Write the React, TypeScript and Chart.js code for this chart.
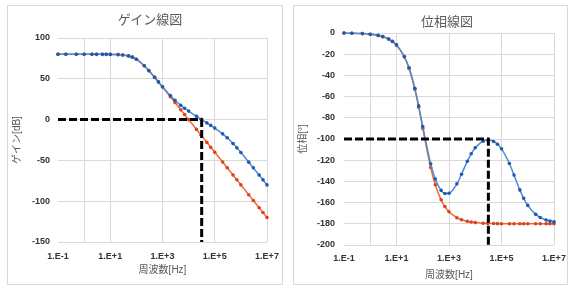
import React, { useEffect, useRef } from 'react';
import { Chart, registerables } from 'chart.js';
Chart.register(...registerables);

// ---- data ----
const freqHz = [0.1, 0.2, 0.5, 1, 2, 3, 5, 7, 10, 20, 30, 50, 70, 100, 200, 300, 500, 700, 1000, 2000, 3000, 5000, 7000, 1e4, 2e4, 3e4, 5e4, 7e4, 1e5, 2e5, 3e5, 5e5, 7e5, 1e6, 2e6, 3e6, 5e6, 7e6, 1e7];
const gainCompensated = [80, 80, 80, 80, 80, 79.99, 79.98, 79.96, 79.91, 79.66, 79.25, 78.06, 76.54, 73.98, 66.04, 60.04, 51.81, 46.23, 40.32, 29.4, 23.7, 17.48, 13.9, 10.41, 4.07, 0.47, -4.07, -7.1, -10.41, -17.48, -22.33, -29.42, -34.61, -40.41, -52.15, -59.13, -67.98, -73.81, -80.0];
const gainUncompensated = [80, 80, 80, 80, 80, 79.99, 79.98, 79.96, 79.91, 79.66, 79.25, 78.06, 76.54, 73.98, 66.02, 60.0, 51.7, 46.02, 39.91, 27.94, 20.91, 12.04, 6.19, 0.0, -12.04, -19.08, -27.96, -33.8, -40.0, -52.04, -59.08, -67.96, -73.8, -80.0, -92.04, -99.08, -107.96, -113.8, -120.0];
const phaseCompensated = [-0.11, -0.23, -0.56, -1.13, -2.26, -3.38, -5.63, -7.88, -11.24, -22.26, -32.86, -52.22, -68.71, -88.21, -123.29, -137.77, -148.49, -151.39, -151.21, -142.33, -133.23, -120.93, -113.94, -108.21, -102.03, -101.06, -102.37, -104.91, -109.25, -123.16, -134.05, -148.03, -155.93, -162.62, -171.1, -174.04, -176.42, -177.44, -178.21];
const phaseUncompensated = [-0.11, -0.23, -0.57, -1.15, -2.29, -3.44, -5.72, -8.01, -11.42, -22.62, -33.4, -53.13, -69.98, -90.0, -126.87, -143.13, -157.38, -163.74, -168.58, -174.28, -176.18, -177.71, -178.36, -178.85, -179.43, -179.62, -179.77, -179.84, -179.89, -179.94, -179.96, -179.98, -179.98, -179.99, -179.99, -180, -180, -180, -180];

const crossoverHz = 31600;
const gainCrossLevel = 0;
const phaseAtCrossover = -100;

const xTickValues = [0.1, 1, 10, 1000, 1e5, 1e7];
const xTickLabels = ['1.E-1', '', '1.E+1', '1.E+3', '1.E+5', '1.E+7'];

const gainMin = -150, gainMax = 100, gainStep = 50;
const phaseMin = -200, phaseMax = 0, phaseStep = 20;

const FONT = "'Liberation Sans', 'Noto Sans CJK JP', sans-serif";
const BLUE = '#4A8AD6';
const BLUE_PT = '#1F5BAA';
const RED = '#F06A38';
const RED_PT = '#D9441C';
const GRID = '#d9d9d9';

type Cfg = {
  blue: number[];
  red: number[];
  guideY: number;
  yMin: number;
  yMax: number;
  yStep: number;
  yTitle: string;
  padTop: number;
  padRight: number;
  yTickPad: number;
  xHeight: number;
  xTickPad: number;
  xTitlePad: number;
};

function makeConfig(c: Cfg): any {
  const series = (vals: number[]) => freqHz.map((f, i) => ({ x: f, y: vals[i] }));
  return {
    type: 'line',
    data: {
      datasets: [
        {
          data: [
            { x: freqHz[0], y: c.guideY },
            { x: crossoverHz, y: c.guideY },
            { x: crossoverHz, y: c.yMin },
          ],
          borderColor: '#000',
          borderWidth: 3,
          borderDash: [8, 3],
          pointRadius: 0,
          fill: false,
          tension: 0,
          clip: false,
        },
        {
          data: series(c.blue),
          borderColor: BLUE,
          borderWidth: 1.5,
          pointRadius: 1.8,
          pointBorderWidth: 0,
          pointBackgroundColor: BLUE_PT,
          fill: false,
          cubicInterpolationMode: 'monotone',
          clip: false,
        },
        {
          data: series(c.red),
          borderColor: RED,
          borderWidth: 1.5,
          pointRadius: 1.8,
          pointBorderWidth: 0,
          pointBackgroundColor: RED_PT,
          fill: false,
          cubicInterpolationMode: 'monotone',
          clip: false,
        },
      ],
    },
    options: {
      animation: false,
      responsive: false,
      maintainAspectRatio: false,
      layout: { padding: { top: c.padTop, right: c.padRight, bottom: 0, left: 0 } },
      plugins: { legend: { display: false }, tooltip: { enabled: false }, title: { display: false } },
      scales: {
        x: {
          type: 'logarithmic',
          min: 0.1,
          max: 1e7,
          border: { display: false },
          grid: {
            drawTicks: false,
            color: (ctx: any) => (ctx.tick && ctx.tick.value === 0.1 ? 'rgba(0,0,0,0)' : GRID),
            lineWidth: 1,
          },
          afterBuildTicks: (s: any) => {
            s.ticks = xTickValues.map((v) => ({ value: v }));
          },
          afterFit: (s: any) => {
            s.height = c.xHeight;
            s.paddingLeft = 0;
            s.paddingRight = 0;
          },
          ticks: {
            autoSkip: false,
            maxRotation: 0,
            padding: c.xTickPad,
            color: '#333333',
            font: { family: FONT, size: 9, weight: 'bold' },
            callback: (v: any) => {
              const i = xTickValues.indexOf(Number(v));
              return i >= 0 ? xTickLabels[i] : '';
            },
          },
          title: {
            display: true,
            text: '周波数[Hz]',
            color: '#595959',
            font: { family: FONT, size: 10 },
            padding: { top: 0, bottom: c.xTitlePad },
          },
        },
        y: {
          min: c.yMin,
          max: c.yMax,
          border: { display: false },
          grid: { drawTicks: false, color: GRID, lineWidth: 1 },
          afterFit: (s: any) => {
            s.width = 50;
          },
          ticks: {
            stepSize: c.yStep,
            padding: c.yTickPad,
            color: '#333333',
            font: { family: FONT, size: 9, weight: 'bold' },
          },
          title: {
            display: true,
            text: c.yTitle,
            color: '#595959',
            font: { family: FONT, size: 10 },
            padding: { top: 3, bottom: 0 },
          },
        },
      },
    },
  };
}

function Panel(props: { left: number; width: number; title: string; titleX: number; titleY: number; cfg: Cfg }) {
  const ref = useRef<HTMLCanvasElement>(null);
  useEffect(() => {
    if (!ref.current) return;
    const chart = new Chart(ref.current, makeConfig(props.cfg));
    return () => chart.destroy();
  }, []);
  const innerW = props.width - 2;
  const innerH = 278;
  return (
    <>
      <div
        style={{
          position: 'absolute',
          left: props.left,
          top: 5,
          width: props.width,
          height: 280,
          boxSizing: 'border-box',
          border: '1px solid #d9d9d9',
        }}
      >
        <canvas ref={ref} width={innerW} height={innerH} style={{ position: 'absolute', left: 0, top: 0, width: innerW, height: innerH }} />
      </div>
      <div
        style={{
          position: 'absolute',
          left: props.titleX - 60,
          width: 120,
          top: props.titleY - 9,
          height: 18,
          lineHeight: '18px',
          textAlign: 'center',
          fontFamily: FONT,
          fontSize: 13,
          color: '#595959',
        }}
      >
        {props.title}
      </div>
    </>
  );
}

export default function App() {
  return (
    <div style={{ position: 'fixed', left: 0, top: 0, width: 575, height: 295, background: '#fff', overflow: 'hidden' }}>
      <Panel
        left={7}
        width={276}
        title="ゲイン線図"
        titleX={150}
        titleY={20}
        cfg={{
          blue: gainCompensated,
          red: gainUncompensated,
          guideY: gainCrossLevel,
          yMin: gainMin,
          yMax: gainMax,
          yStep: gainStep,
          yTitle: 'ゲイン[dB]',
          padTop: 32,
          padRight: 15,
          yTickPad: 8,
          xHeight: 42,
          xTickPad: 9,
          xTitlePad: 8,
        }}
      />
      <Panel
        left={293}
        width={275}
        title="位相線図"
        titleX={447}
        titleY={22}
        cfg={{
          blue: phaseCompensated,
          red: phaseUncompensated,
          guideY: phaseAtCrossover,
          yMin: phaseMin,
          yMax: phaseMax,
          yStep: phaseStep,
          yTitle: '位相[°]',
          padTop: 27,
          padRight: 13,
          yTickPad: 9,
          xHeight: 39,
          xTickPad: 8,
          xTitlePad: 3,
        }}
      />
    </div>
  );
}
